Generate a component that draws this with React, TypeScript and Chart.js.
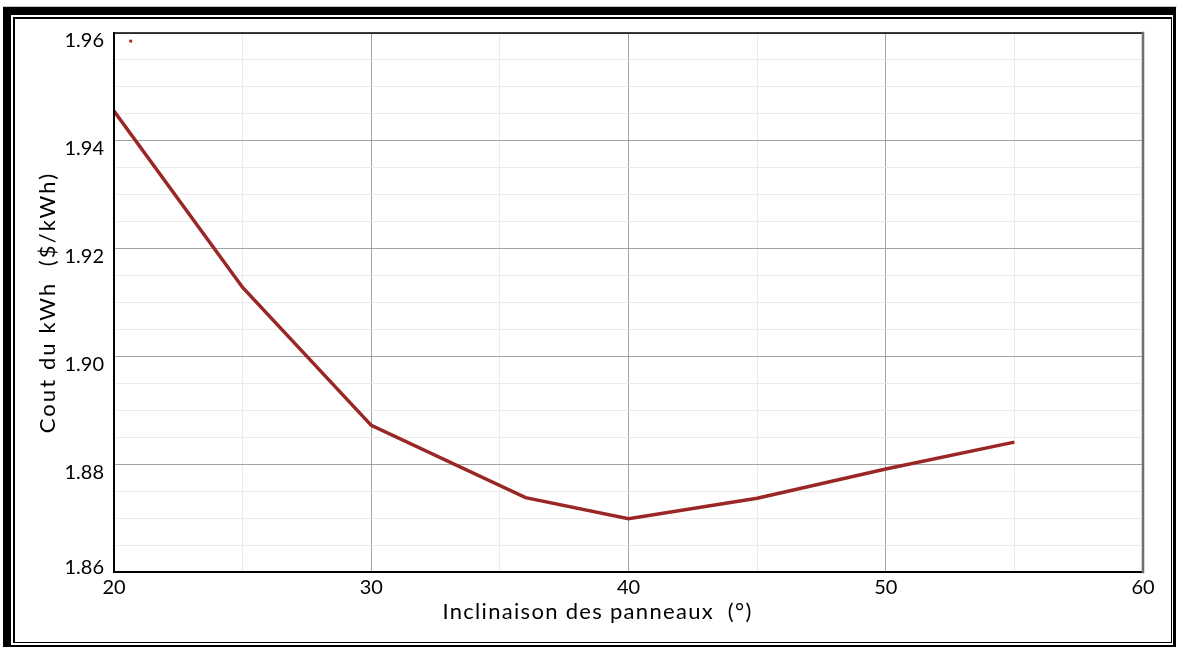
import React, { useEffect, useRef } from 'react';
import { Chart, registerables } from 'chart.js';

Chart.register(...registerables);

// ---- data ----
const tiltAngles = [20, 25, 30, 36, 40, 45, 50, 55];
const kwhCost = [1.9455, 1.9128, 1.8872, 1.8738, 1.8699, 1.8737, 1.8791, 1.8841];
const markerX = [20.65];
const markerY = [1.9585];
const xTickLabels = [20, 30, 40, 50, 60];
const yTickLabels = [1.86, 1.88, 1.9, 1.92, 1.94, 1.96];
const xTitle = 'Inclinaison des panneaux  (°)';
const yTitle = 'Cout du kWh  ($/kWh)';

const FONT = 'Lato, "Open Sans", sans-serif';
const LINE_COLOR = '#9b2626';

function patchTitle(scale: any, spacing: string, dx: number, dy: number) {
  if (scale.__patched) return;
  const orig = scale.drawTitle.bind(scale);
  scale.drawTitle = () => {
    const ctx = scale.ctx;
    ctx.save();
    try {
      (ctx as any).letterSpacing = spacing;
    } catch (e) {
      /* ignore */
    }
    ctx.translate(dx, dy);
    orig();
    ctx.restore();
  };
  scale.__patched = true;
}

export default function App() {
  const ref = useRef<HTMLCanvasElement>(null);

  useEffect(() => {
    if (!ref.current) return;
    const near = (arr: number[], v: number) => arr.some((t) => Math.abs(t - v) < 1e-6);

    const framePlugin = {
      id: 'frame',
      afterDraw(chart: any) {
        const { ctx, chartArea: a } = chart;
        ctx.save();
        ctx.lineCap = 'square';
        ctx.strokeStyle = '#000';
        ctx.lineWidth = 2;
        ctx.beginPath();
        ctx.moveTo(a.left, a.top);
        ctx.lineTo(a.left, a.bottom);
        ctx.lineTo(a.right, a.bottom);
        ctx.stroke();
        ctx.lineWidth = 1.5;
        ctx.beginPath();
        ctx.moveTo(a.left, a.top);
        ctx.lineTo(a.right, a.top);
        ctx.stroke();
        ctx.strokeStyle = '#707070';
        ctx.lineWidth = 2.5;
        ctx.beginPath();
        ctx.moveTo(a.right, a.top);
        ctx.lineTo(a.right, a.bottom);
        ctx.stroke();
        ctx.restore();
      },
    };

    const chart = new Chart(ref.current, {
      type: 'line',
      data: {
        datasets: [
          {
            label: 'Cout',
            data: tiltAngles.map((x, i) => ({ x, y: kwhCost[i] })),
            borderColor: LINE_COLOR,
            borderWidth: 3.5,
            pointRadius: 0,
            tension: 0,
            fill: false,
          },
          {
            label: 'marker',
            data: markerX.map((x, i) => ({ x, y: markerY[i] })),
            showLine: false,
            pointStyle: 'rect',
            pointRadius: 2,
            backgroundColor: LINE_COLOR,
            borderWidth: 0,
          },
        ],
      },
      plugins: [framePlugin],
      options: {
        animation: false,
        responsive: false,
        devicePixelRatio: 1,
        layout: { padding: { left: 0, top: 33, right: 36, bottom: 0 } },
        plugins: {
          legend: { display: false },
          tooltip: { enabled: false },
        },
        scales: {
          x: {
            type: 'linear',
            min: 20,
            max: 60,
            border: { display: false },
            grid: {
              drawTicks: false,
              lineWidth: 1,
              color: (c: any) => (near(xTickLabels, c.tick.value) ? '#a3a3a3' : '#ebebeb'),
            },
            ticks: {
              stepSize: 5,
              autoSkip: false,
              maxRotation: 0,
              padding: 4,
              color: '#000',
              font: { family: FONT, size: 20 },
              callback: (v: any) => (near(xTickLabels, Number(v)) ? String(v) : ''),
            },
            title: {
              display: true,
              text: xTitle,
              color: '#000',
              font: { family: FONT, size: 22 },
              padding: { top: 0, bottom: 25 },
            },
            afterFit: (s: any) => {
              s.height = 78;
            },
            afterUpdate: (s: any) => patchTitle(s, '1.3px', -31, 0),
          },
          y: {
            type: 'linear',
            min: 1.86,
            max: 1.96,
            border: { display: false },
            grid: {
              drawTicks: false,
              lineWidth: 1,
              color: (c: any) => (near(yTickLabels, c.tick.value) ? '#a3a3a3' : '#ebebeb'),
            },
            ticks: {
              stepSize: 0.005,
              autoSkip: false,
              padding: 10,
              labelOffset: 8,
              color: '#000',
              font: { family: FONT, size: 20 },
              callback: (v: any) => {
                const n = Number(v);
                if (!near(yTickLabels, n)) return '';
                const s = n.toFixed(2);
                return Math.abs(n - yTickLabels[0]) < 1e-6 ? [s, ''] : s;
              },
            },
            title: {
              display: true,
              text: yTitle,
              color: '#000',
              font: { family: FONT, size: 22 },
              padding: { top: 35, bottom: 0 },
            },
            afterFit: (s: any) => {
              s.width = 114;
            },
            afterUpdate: (s: any) => patchTitle(s, '2.1px', 0, 0),
          },
        },
      },
    } as any);

    return () => chart.destroy();
  }, []);

  return (
    <div style={{ position: 'absolute', left: 0, top: 0, width: 1179, height: 650, background: '#fff' }}>
      <div style={{ position: 'absolute', left: 3, top: 6, width: 1174, height: 1, background: '#c4c4c4' }} />
      <div
        style={{
          position: 'absolute',
          left: 3,
          top: 7,
          width: 1173,
          height: 640,
          boxSizing: 'border-box',
          borderStyle: 'solid',
          borderColor: '#000',
          borderWidth: '8px 3px 2px 8px',
        }}
      />
      <div
        style={{
          position: 'absolute',
          left: 13,
          top: 17,
          width: 1159,
          height: 626,
          boxSizing: 'border-box',
          borderStyle: 'solid',
          borderColor: '#000',
          borderWidth: '2px 1px 1px 2px',
        }}
      />
      <canvas
        ref={ref}
        width={1179}
        height={650}
        style={{ position: 'absolute', left: 0, top: 0, width: 1179, height: 650 }}
      />
    </div>
  );
}
